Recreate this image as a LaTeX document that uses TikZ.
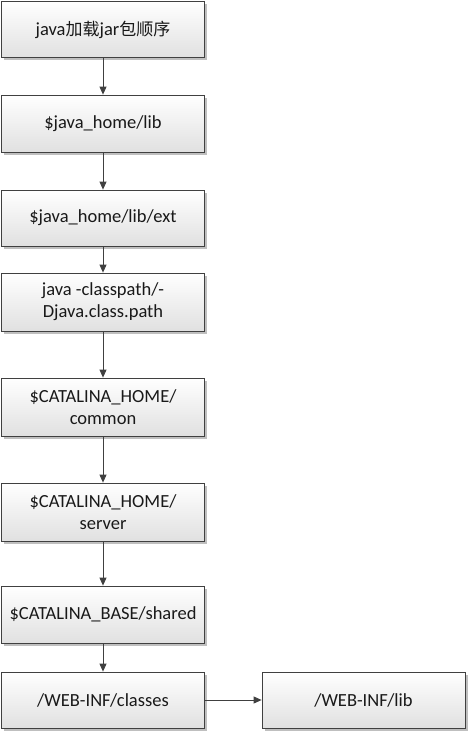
\documentclass[tikz,border=0pt]{standalone}
\usepackage{fontspec}
\setmainfont{Carlito}
\newfontfamily\cjk{Noto Sans CJK SC}
\usetikzlibrary{shadows,arrows.meta}
\tikzset{
  box/.style={draw=black!75, line width=0.8pt, top color=white, bottom color=black!12,
    drop shadow={shadow xshift=2.5pt, shadow yshift=-2.5pt, fill=black!25, opacity=1},
    font=\fontsize{18.5}{22}\selectfont, text=black!90, align=center, inner sep=0pt},
  conn/.style={draw=black!75, line width=0.8pt, -{Triangle[length=8pt,width=7pt]}}
}
\begin{document}
\begin{tikzpicture}[x=1pt,y=-1pt]
\useasboundingbox (0,0) rectangle (468,731);
\node[box, minimum width=203pt, minimum height=56pt] (b1) at (103,29.5) {java{\cjk\fontsize{17}{22}\selectfont 加载}jar{\cjk\fontsize{17}{22}\selectfont 包顺序}};
\node[box, minimum width=203pt, minimum height=57pt] (b2) at (103,123.5) {\$java\_home/lib};
\node[box, minimum width=203pt, minimum height=56pt] (b3) at (103,218) {\$java\_home/lib/ext};
\node[box, minimum width=203pt, minimum height=58pt] (b4) at (103,302) {java -classpath/-\\Djava.class.path};
\node[box, minimum width=203pt, minimum height=58pt] (b5) at (103,407) {\$CATALINA\_HOME/\\common};
\node[box, minimum width=203pt, minimum height=58pt] (b6) at (103,512) {\$CATALINA\_HOME/\\server};
\node[box, minimum width=203pt, minimum height=57pt] (b7) at (103,614.5) {\$CATALINA\_BASE/shared};
\node[box, minimum width=203pt, minimum height=56pt] (b8) at (103,700) {/WEB-INF/classes};
\node[box, minimum width=203pt, minimum height=56pt] (b9) at (363.5,700) {/WEB-INF/lib};
\draw[conn] (b1) -- (b2);
\draw[conn] (b2) -- (b3);
\draw[conn] (b3) -- (b4);
\draw[conn] (b4) -- (b5);
\draw[conn] (b5) -- (b6);
\draw[conn] (b6) -- (b7);
\draw[conn] (b7) -- (b8);
\draw[conn] (b8) -- (b9);
\end{tikzpicture}
\end{document}
